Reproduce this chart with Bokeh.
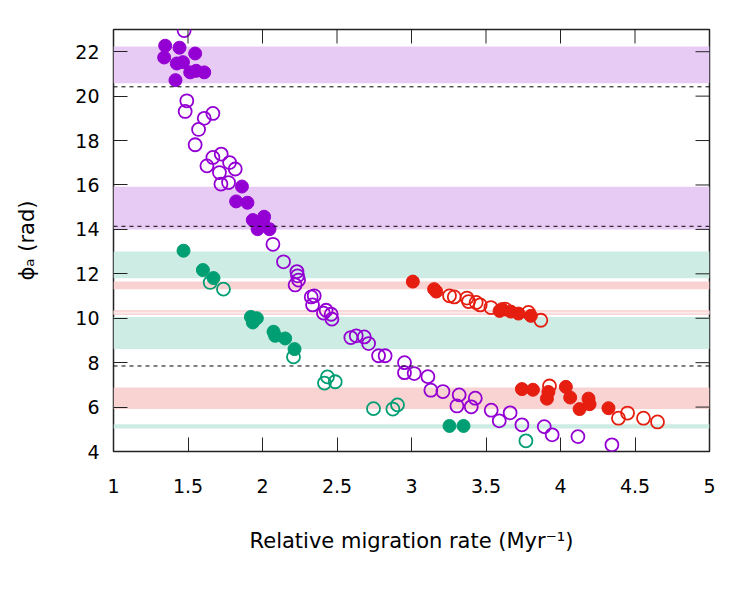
import math
from bokeh.plotting import figure
from bokeh.models import Range1d, FixedTicker, Span
from bokeh.embed import file_html
from bokeh.resources import INLINE

# ---- data ----
purple_filled_x = [1.347, 1.443, 1.340, 1.548, 1.425, 1.466, 1.515, 1.555, 1.609, 1.416,
                   1.862, 1.823, 1.899, 1.935, 2.011, 2.003, 1.967, 2.047]
purple_filled_y = [22.27, 22.18, 21.74, 21.92, 21.47, 21.53, 21.07, 21.14, 21.07, 20.72,
                   15.93, 15.26, 15.20, 14.42, 14.57, 14.36, 14.01, 14.01]
purple_open_x = [1.474, 1.492, 1.481, 1.667, 1.609, 1.571, 1.548, 1.723, 1.667, 1.779,
                 1.627, 1.817, 1.711, 1.721, 1.772, 2.070, 2.141, 2.231, 2.235, 2.242,
                 2.219, 2.327, 2.347, 2.336, 2.427, 2.409, 2.461, 2.466, 2.593, 2.629,
                 2.683, 2.712, 2.779, 2.823, 2.953, 2.953, 3.018, 3.110, 3.130, 3.211,
                 3.320, 3.428, 3.305, 3.401, 3.535, 3.662, 3.589, 3.741, 3.891, 3.944,
                 4.117, 4.345]
purple_open_y = [22.95, 19.79, 19.31, 19.22, 19.00, 18.50, 17.81, 17.39, 17.24, 17.01,
                 16.86, 16.72, 16.56, 16.04, 16.11, 13.33, 12.54, 12.10, 11.91, 11.72,
                 11.50, 10.96, 11.01, 10.60, 10.36, 10.23, 10.18, 9.96, 9.13, 9.21,
                 9.16, 8.86, 8.31, 8.31, 8.00, 7.55, 7.51, 7.37, 6.76, 6.70,
                 6.55, 6.40, 6.05, 6.01, 5.86, 5.74, 5.38, 5.20, 5.12, 4.75,
                 4.67, 4.30]
green_filled_x = [1.470, 1.600, 1.671, 1.922, 1.962, 1.935, 2.074, 2.085, 2.152, 2.215, 3.255, 3.349]
green_filled_y = [13.04, 12.17, 11.81, 10.06, 10.00, 9.81, 9.39, 9.21, 9.09, 8.61, 5.15, 5.15]
green_open_x = [1.649, 1.738, 2.208, 2.436, 2.416, 2.488, 2.745, 2.875, 2.906, 3.768]
green_open_y = [11.61, 11.31, 8.26, 7.36, 7.08, 7.14, 5.93, 5.91, 6.10, 4.48]
red_filled_x = [3.009, 3.152, 3.166, 3.591, 3.607, 3.667, 3.718, 3.801,
                3.741, 3.815, 3.919, 3.909, 4.036, 4.065, 4.128, 4.188, 4.195, 4.322]
red_filled_y = [11.65, 11.31, 11.20, 10.33, 10.41, 10.30, 10.21, 10.11,
                6.81, 6.78, 6.68, 6.38, 6.91, 6.43, 5.91, 6.38, 6.13, 5.95]
red_open_x = [3.255, 3.287, 3.372, 3.383, 3.434, 3.461, 3.533, 3.629, 3.785, 3.868,
              3.926, 4.389, 4.450, 4.557, 4.651]
red_open_y = [11.01, 10.96, 10.91, 10.75, 10.71, 10.60, 10.48, 10.41, 10.26, 9.91,
              6.95, 5.50, 5.73, 5.50, 5.33]

purple_band_lo = [20.58, 14.00]
purple_band_hi = [22.23, 15.92]
green_band_lo = [11.80, 8.61, 5.03]
green_band_hi = [13.00, 10.06, 5.23]
red_band_lo = [11.31, 5.91]
red_band_hi = [11.65, 6.88]
red_thin_lo = [10.18]
red_thin_hi = [10.33]
dashed_levels = [7.85, 14.14, 20.42]

x_min, x_max = 1, 5
y_min, y_max = 4, 23
x_ticks = [1, 1.5, 2, 2.5, 3, 3.5, 4, 4.5, 5]
x_tick_labels = {1: "1", 1.5: "1.5", 2: "2", 2.5: "2.5", 3: "3", 3.5: "3.5", 4: "4", 4.5: "4.5", 5: "5"}
y_ticks = [4, 6, 8, 10, 12, 14, 16, 18, 20, 22]

PURPLE = "#9400d3"
GREEN = "#009e73"
RED = "#e51e10"
FONT = "DejaVu Sans"
TICK_COLOR = "#222222"

p = figure(width=750, height=600, output_backend="svg", toolbar_location=None,
           x_range=Range1d(x_min, x_max), y_range=Range1d(y_min, y_max))
p.min_border_left = 113
p.min_border_right = 41
p.min_border_top = 29
p.min_border_bottom = 149
p.background_fill_color = "white"
p.border_fill_color = "white"
p.outline_line_color = "#222222"
p.outline_line_width = 1.5
p.grid.visible = False

# bands
for lo, hi in zip(purple_band_lo, purple_band_hi):
    p.quad(left=x_min, right=x_max, bottom=lo, top=hi, fill_color="#e8cbf5", line_color=None)
for lo, hi in zip(green_band_lo, green_band_hi):
    p.quad(left=x_min, right=x_max, bottom=lo, top=hi, fill_color="#cdece3", line_color=None)
for lo, hi in zip(red_band_lo, red_band_hi):
    p.quad(left=x_min, right=x_max, bottom=lo, top=hi, fill_color="#f9d2d2", line_color=None)
for lo, hi in zip(red_thin_lo, red_thin_hi):
    p.quad(left=x_min, right=x_max, bottom=lo, top=hi, fill_color="#fdeaea",
           line_color="#f8cccc", line_width=1.2)

for lev in dashed_levels:
    p.add_layout(Span(location=lev, dimension="width", line_color="black",
                      line_width=1, line_dash="4 4"))

# points
p.scatter(purple_open_x, purple_open_y, size=13, fill_color=None, line_color=PURPLE, line_width=1.8)
p.scatter(purple_filled_x, purple_filled_y, size=13, fill_color=PURPLE, line_color=PURPLE)
p.scatter(green_open_x, green_open_y, size=13, fill_color=None, line_color=GREEN, line_width=1.8)
p.scatter(green_filled_x, green_filled_y, size=13, fill_color=GREEN, line_color=GREEN)
p.scatter(red_open_x, red_open_y, size=13, fill_color=None, line_color=RED, line_width=1.8)
p.scatter(red_filled_x, red_filled_y, size=13, fill_color=RED, line_color=RED)

# mirrored inward ticks on top and right (no labels)
p.ray(x=x_ticks, y=[y_max] * len(x_ticks), length=14, length_units="screen",
      angle=-math.pi / 2, line_color=TICK_COLOR, line_width=1)
p.ray(x=[x_max] * len(y_ticks), y=y_ticks, length=14, length_units="screen",
      angle=math.pi, line_color=TICK_COLOR, line_width=1)

def style_axis(ax, standoff):
    ax.major_tick_in = 14
    ax.major_tick_out = 0
    ax.minor_tick_in = 0
    ax.minor_tick_out = 0
    ax.axis_line_color = None
    ax.major_tick_line_color = TICK_COLOR
    ax.major_tick_line_width = 1
    ax.major_label_text_font = FONT
    ax.major_label_text_font_size = "19px"
    ax.major_label_text_color = "black"
    ax.major_label_standoff = standoff
    ax.axis_label_text_font = FONT
    ax.axis_label_text_font_size = "21px"
    ax.axis_label_text_font_style = "normal"
    ax.axis_label_text_color = "black"

xax = p.xaxis[0]
xax.ticker = FixedTicker(ticks=x_ticks)
xax.major_label_overrides = x_tick_labels
style_axis(xax, standoff=27)
xax.axis_label = "Relative migration rate (Myr\u207b\u00b9)"
xax.axis_label_standoff = 33

yax = p.yaxis[0]
yax.ticker = FixedTicker(ticks=y_ticks)
style_axis(yax, standoff=14)
yax.axis_label = "\u03d5\u2090 (rad)"
yax.axis_label_standoff = 33

open("out.html", "w").write(file_html(p, INLINE))
